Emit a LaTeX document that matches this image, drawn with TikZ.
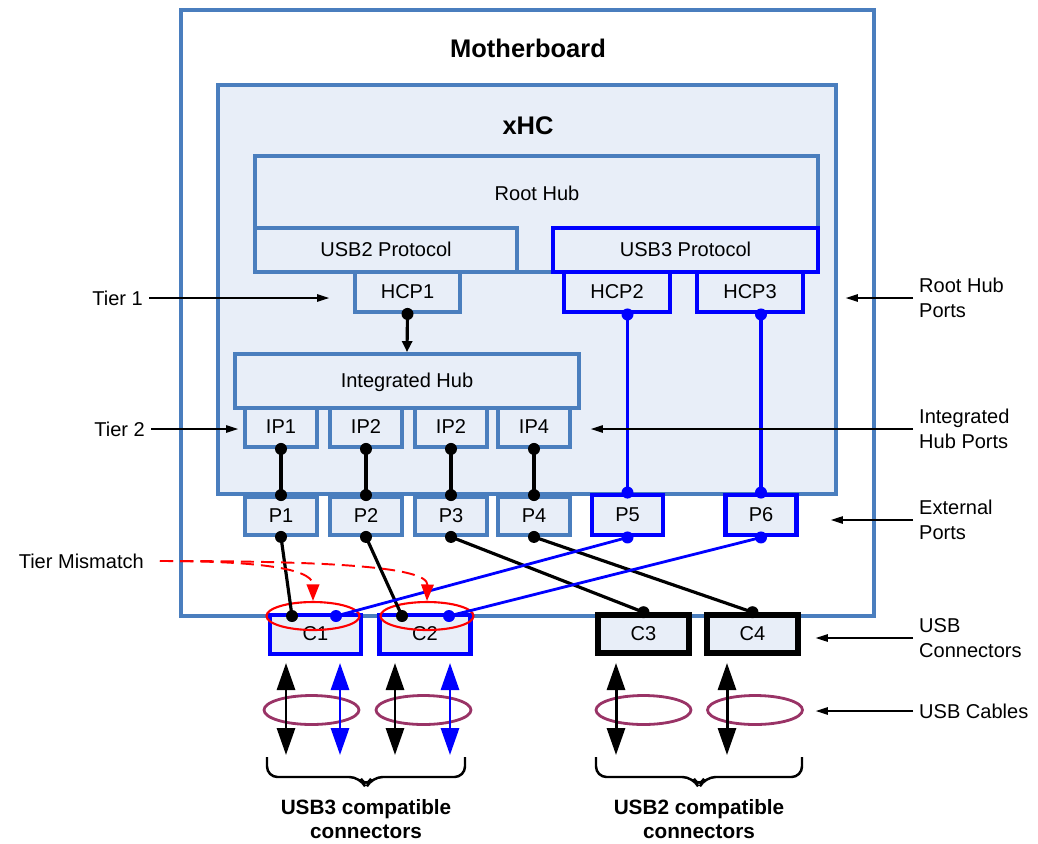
\documentclass[tikz,border=0pt]{standalone}
\usepackage{fontspec}
\setmainfont{Liberation Sans}
\usetikzlibrary{arrows.meta,shapes.geometric}
\definecolor{hubblue}{RGB}{74,126,190}
\definecolor{hubfill}{RGB}{232,238,248}
\definecolor{usbblue}{RGB}{0,0,255}
\definecolor{cablepink}{RGB}{153,51,102}

\begin{document}
\begin{tikzpicture}[x=0.02cm,y=-0.02cm,font=\fontsize{11.4}{14.2}\selectfont,
    box/.style={draw=hubblue,line width=2.2pt,fill=hubfill,inner sep=0pt,text height=0.72em,text depth=0pt},
    usbbox/.style={box,draw=usbblue,line width=2.8pt},
    oldbox/.style={box,draw=black,line width=3.2pt},
    title/.style={font=\fontsize{14.5}{17}\selectfont\bfseries},
    group/.style={font=\fontsize{11.8}{13.4}\selectfont\bfseries,align=center},
    wire/.style={line width=1.8pt},
    pointer/.style={line width=0.6pt,-{Triangle[length=0.24cm,width=0.15cm]}},
    cable/.style={line width=1.7pt,{Triangle[length=0.54cm,width=0.36cm]}-{Triangle[length=0.54cm,width=0.36cm]}},
    bundle/.style={ellipse,draw=cablepink,line width=1.6pt,minimum width=1.9cm,minimum height=0.58cm,inner sep=0pt},
    ring/.style={ellipse,draw=red,line width=1.2pt,minimum width=1.86cm,minimum height=0.56cm,inner sep=0pt},
    mismatch/.style={draw=red,line width=1.1pt,dash pattern=on 7.5pt off 4pt,-{Triangle[length=0.33cm,width=0.25cm]}}]
    \useasboundingbox (0,0) rectangle (1038,843);

    % Motherboard and host controller
    \node[box,fill=white,minimum width=13.86cm,minimum height=12.12cm] (mb) at (527.5,313) {};
    \node[title] (mbtitle) at (528,48) {Motherboard};
    \node[box,minimum width=12.36cm,minimum height=8.18cm] (xhc) at (527,289.5) {};
    \node[title] (xhctitle) at (528,126) {xHC};

    % Root hub
    \node[box,minimum width=11.26cm,minimum height=2.32cm] (roothub) at (536.5,214) {};
    \node (roothubtxt) at (537,193) {Root Hub};
    \node[box,minimum width=5.24cm,minimum height=0.88cm] (usb2) at (386,250) {USB2 Protocol};
    \node[usbbox,minimum width=5.3cm,minimum height=0.88cm] (usb3) at (685.5,250) {USB3 Protocol};
    \node[box,minimum width=2.1cm,minimum height=0.8cm] (hcp1) at (407.5,292) {HCP1};
    \node[usbbox,minimum width=2.12cm,minimum height=0.8cm] (hcp2) at (617,292) {HCP2};
    \node[usbbox,minimum width=2.12cm,minimum height=0.8cm] (hcp3) at (750,292) {HCP3};

    % Integrated hub and ports
    \node[box,minimum width=6.88cm,minimum height=1.08cm] (ihub) at (407,381) {Integrated Hub};
    \foreach \n/\x/\t in {1/281/IP1,2/366/IP2,3/451/IP2,4/534/IP4} {
      \node[box,minimum width=1.44cm,minimum height=0.78cm] (ip\n) at (\x,427.5) {\t};
      \node[box,minimum width=1.44cm,minimum height=0.76cm] (p\n) at (\x,516) {P\n};
    }
    \node[usbbox,minimum width=1.42cm,minimum height=0.8cm] (p5) at (627.5,515) {P5};
    \node[usbbox,minimum width=1.42cm,minimum height=0.8cm] (p6) at (761,515) {P6};

    % Connectors
    \node[usbbox,minimum width=1.82cm,minimum height=0.78cm] (c1) at (315.5,634.5) {C1};
    \node[usbbox,minimum width=1.82cm,minimum height=0.78cm] (c2) at (425,634.5) {C2};
    \node[oldbox,minimum width=1.82cm,minimum height=0.76cm] (c3) at (643.5,634) {C3};
    \node[oldbox,minimum width=1.82cm,minimum height=0.76cm] (c4) at (752.5,634) {C4};
    \coordinate (c1a) at (292,616);
    \coordinate (c1b) at (336,616);
    \coordinate (c2a) at (402,616);
    \coordinate (c2b) at (449,616);
    \node[ring] (ring1) at (313,616) {};
    \node[ring] (ring2) at (427,616) {};

    % Wiring
    \draw[wire,-{Triangle[length=0.22cm,width=0.2cm]}] (hcp1.south) -- (ihub.north);
    \fill (hcp1.south) circle (0.12cm);
    \foreach \n in {1,...,4} {
      \draw[wire] (ip\n.south) -- (p\n.north);
      \fill (ip\n.south) circle (0.12cm) (p\n.north) circle (0.12cm);
    }
    \draw[wire,usbblue] (p5.north |- hcp2.south) -- (p5.north);
    \draw[wire,usbblue] (p6.north |- hcp3.south) -- (p6.north);
    \fill[usbblue] (p5.north |- hcp2.south) circle (0.12cm) (p5.north) circle (0.12cm)
      (p6.north |- hcp3.south) circle (0.12cm) (p6.north) circle (0.12cm);
    \draw[wire] (p1.south) -- (c1a);
    \draw[wire] (p2.south) -- (c2a);
    \draw[wire] (p3.south) -- (c3.north);
    \draw[wire] (p4.south) -- (c4.north);
    \draw[wire,usbblue,line width=1.6pt] (p5.south) -- (c1b);
    \draw[wire,usbblue,line width=1.6pt] (p6.south) -- (c2b);
    \fill (p1.south) circle (0.12cm) (p2.south) circle (0.12cm) (p3.south) circle (0.12cm)
      (p4.south) circle (0.12cm) (c1a) circle (0.12cm) (c2a) circle (0.12cm)
      (c3.north) circle (0.12cm) (c4.north) circle (0.12cm);
    \fill[usbblue] (p5.south) circle (0.12cm) (p6.south) circle (0.12cm)
      (c1b) circle (0.12cm) (c2b) circle (0.12cm);

    % Cables
    \foreach \n/\x in {1/311.5,2/423.5,3/643.5,4/755}
      \node[bundle] (cab\n) at (\x,710) {};
    \foreach \x/\c in {286/black,340/usbblue,395/black,450/usbblue,616/black,727/black}
      \draw[cable,\c] (\x,663) -- (\x,755);

    % Braces
    \draw[line width=1.4pt,rounded corners=6pt] (267,757) -- (267,777) -- (360,777) -- (366,788) -- (372,777) -- (465,777) -- (465,757);
    \draw[line width=1.4pt,rounded corners=6pt] (596,757) -- (596,777) -- (693,777) -- (699,788) -- (705,777) -- (802,777) -- (802,757);
    \node[group] (usb3lbl) at (366,819) {USB3 compatible\\connectors};
    \node[group] (usb2lbl) at (699,819) {USB2 compatible\\connectors};

    % Labels (left)
    \node[anchor=east] (tier1) at (149,298) {Tier 1};
    \draw[pointer,shorten >=0.48cm] (tier1.east) -- (tier1.east -| hcp1.west);
    \node[anchor=east] (tier2) at (151,429) {Tier 2};
    \draw[pointer,shorten >=0.1cm] (tier2.east) -- (tier2.east -| ip1.west);
    \node[anchor=east] (tm) at (150,561) {Tier Mismatch};
    \draw[mismatch] ([xshift=0.2cm]tm.east) .. controls (240,561) and (313,566) .. (ring1.north);
    \draw[mismatch] ([xshift=0.2cm]tm.east) .. controls (320,561) and (428,566) .. (ring2.north);

    % Labels (right)
    \node[anchor=west,align=left] (rhports) at (913,298) {Root Hub\\Ports};
    \draw[pointer,shorten >=0.16cm] (rhports.west) -- (rhports.west -| xhc.east);
    \node[anchor=west,align=left] (ihports) at (913,429) {Integrated\\Hub Ports};
    \draw[pointer,shorten >=0.38cm] (ihports.west) -- (ihports.west -| ip4.east);
    \node[anchor=west,align=left] (extports) at (913,520) {External\\Ports};
    \draw[pointer,shorten >=0.64cm] (extports.west) -- (extports.west -| p6.east);
    \node[anchor=west,align=left] (usbconn) at (913,638) {USB\\Connectors};
    \draw[pointer,shorten >=0.3cm] (usbconn.west) -- (usbconn.west -| c4.east);
    \node[anchor=west] (usbcab) at (913,711) {USB Cables};
    \draw[pointer,shorten >=0.24cm] (usbcab.west) -- (usbcab.west -| cab4.east);
  \end{tikzpicture}
\end{document}
